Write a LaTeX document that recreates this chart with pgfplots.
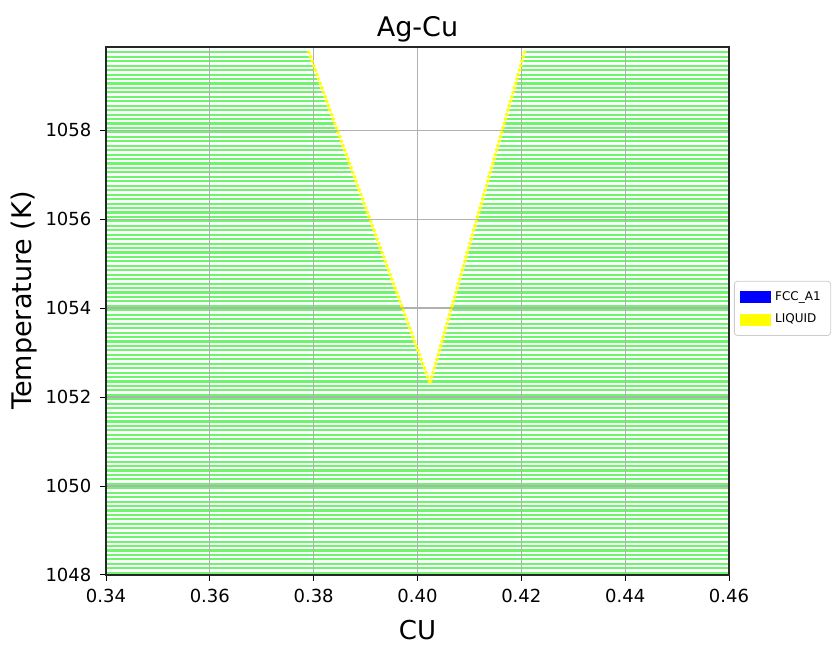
\documentclass[border=0pt]{standalone}
\usepackage{fontspec}
\setmainfont{DejaVu Sans}
\usepackage{pgfplots}
\usepackage{pgfplotstable}
\pgfplotsset{compat=1.18}
\definecolor{tiegreen}{RGB}{110,245,110}
\definecolor{liqyellow}{RGB}{255,255,0}
\definecolor{gridgray}{RGB}{176,176,176}
\definecolor{leggray}{RGB}{204,204,204}

% liquidus points (T, left branch, right branch)
\pgfplotstableread{
T xL xR
1052.35 0.40228 0.40250
1052.45 0.40196 0.40274
1052.55 0.40165 0.40299
1052.65 0.40133 0.40323
1052.75 0.40102 0.40348
1052.85 0.40071 0.40372
1052.95 0.40039 0.40397
1053.05 0.40008 0.40421
1053.15 0.39977 0.40446
1053.25 0.39945 0.40470
1053.35 0.39914 0.40495
1053.45 0.39883 0.40519
1053.55 0.39851 0.40543
1053.65 0.39820 0.40568
1053.75 0.39789 0.40592
1053.85 0.39757 0.40617
1053.95 0.39726 0.40641
1054.05 0.39695 0.40666
1054.15 0.39663 0.40690
1054.25 0.39632 0.40715
1054.35 0.39600 0.40739
1054.45 0.39569 0.40764
1054.55 0.39538 0.40788
1054.65 0.39506 0.40813
1054.75 0.39475 0.40837
1054.85 0.39444 0.40862
1054.95 0.39412 0.40886
1055.05 0.39381 0.40911
1055.15 0.39350 0.40935
1055.25 0.39318 0.40959
1055.35 0.39287 0.40984
1055.45 0.39256 0.41008
1055.55 0.39224 0.41033
1055.65 0.39193 0.41057
1055.75 0.39162 0.41082
1055.85 0.39130 0.41106
1055.95 0.39099 0.41131
1056.05 0.39068 0.41155
1056.15 0.39036 0.41180
1056.25 0.39005 0.41204
1056.35 0.38974 0.41229
1056.45 0.38942 0.41253
1056.55 0.38911 0.41278
1056.65 0.38879 0.41302
1056.75 0.38848 0.41327
1056.85 0.38817 0.41351
1056.95 0.38785 0.41375
1057.05 0.38754 0.41400
1057.15 0.38723 0.41424
1057.25 0.38691 0.41449
1057.35 0.38660 0.41473
1057.45 0.38629 0.41498
1057.55 0.38597 0.41522
1057.65 0.38566 0.41547
1057.75 0.38535 0.41571
1057.85 0.38503 0.41596
1057.95 0.38472 0.41620
1058.05 0.38441 0.41645
1058.15 0.38409 0.41669
1058.25 0.38378 0.41694
1058.35 0.38347 0.41718
1058.45 0.38315 0.41743
1058.55 0.38284 0.41767
1058.65 0.38252 0.41791
1058.75 0.38221 0.41816
1058.85 0.38190 0.41840
1058.95 0.38158 0.41865
1059.05 0.38127 0.41889
1059.15 0.38096 0.41914
1059.25 0.38064 0.41938
1059.35 0.38033 0.41963
1059.45 0.38002 0.41987
1059.55 0.37970 0.42012
1059.65 0.37939 0.42036
1059.75 0.37908 0.42061
}\liq

% tie lines below the eutectic (full width)
\pgfplotstableread{
T
1048.05
1048.15
1048.25
1048.35
1048.45
1048.55
1048.65
1048.75
1048.85
1048.95
1049.05
1049.15
1049.25
1049.35
1049.45
1049.55
1049.65
1049.75
1049.85
1049.95
1050.05
1050.15
1050.25
1050.35
1050.45
1050.55
1050.65
1050.75
1050.85
1050.95
1051.05
1051.15
1051.25
1051.35
1051.45
1051.55
1051.65
1051.75
1051.85
1051.95
1052.05
1052.15
1052.25
}\sol

\begin{document}
\begin{tikzpicture}
\path[use as bounding box] (-53pt,-35.5pt) rectangle (365pt,287.5pt);
\begin{axis}[
  at={(0pt,0pt)}, anchor=south west,
  scale only axis, width=311.5pt, height=264pt,
  xmin=0.34, xmax=0.46, ymin=1048, ymax=1059.87,
  xtick={0.34,0.36,0.38,0.40,0.42,0.44,0.46},
  ytick={1048,1050,1052,1054,1056,1058},
  xticklabel style={/pgf/number format/fixed, /pgf/number format/fixed zerofill, /pgf/number format/precision=2},
  /pgf/number format/1000 sep={},
  /pgf/number format/assume math mode=true,
  tick label style={font=\fontsize{9}{10}\selectfont},
  tick align=outside, tick pos=left,
  major tick length=2.8pt,
  tick style={black, line width=0.5pt},
  xticklabel style={yshift=-0.5pt},
  yticklabel style={xshift=-1pt},
  grid=major,
  major grid style={gridgray, line width=0.6pt},
  axis line style={black!85, line width=0.7pt},
  axis on top,
  title={Ag-Cu},
  title style={at={(axis description cs:0.5,1)}, anchor=base, yshift=-1pt, font=\fontsize{13.5}{16}\selectfont},
  xlabel={CU},
  xlabel style={at={(axis description cs:0.5,0)}, anchor=base, yshift=-32.5pt, font=\fontsize{13}{15}\selectfont},
  ylabel={Temperature (K)},
  ylabel style={at={(axis description cs:-0.1316,0.52)}, anchor=center, font=\fontsize{13.5}{16}\selectfont},
  legend style={at={(1.008,0.505)}, anchor=west, font=\fontsize{6}{7}\selectfont,
    draw=leggray, rounded corners=1.5pt, row sep=1.2pt, inner xsep=3pt, inner ysep=3pt},
  legend cell align=left,
]
% tie lines below the eutectic
\addplot[tiegreen, line width=1.05pt, quiver={u=0.2, v=0}, forget plot] table[x expr=0.30, y=T]{\sol};
% tie lines left of the liquid region
\addplot[tiegreen, line width=1.05pt, quiver={u=0.30-\thisrow{xL}, v=0}, forget plot] table[x=xL, y=T]{\liq};
% tie lines right of the liquid region
\addplot[tiegreen, line width=1.05pt, quiver={u=0.50-\thisrow{xR}, v=0}, forget plot] table[x=xR, y=T]{\liq};
% liquid boundary points
\addplot[only marks, mark=*, mark size=0.75pt, liqyellow, forget plot] table[x=xL, y=T]{\liq};
\addplot[only marks, mark=*, mark size=0.75pt, liqyellow, forget plot] table[x=xR, y=T]{\liq};
\addlegendimage{legend image code/.code={\fill[blue, sharp corners] (0pt,-2.8pt) rectangle (15pt,2.8pt);}}
\addlegendentry{FCC\_A1}
\addlegendimage{legend image code/.code={\fill[liqyellow, sharp corners] (0pt,-2.8pt) rectangle (15pt,2.8pt);}}
\addlegendentry{LIQUID}
\end{axis}
\end{tikzpicture}
\end{document}
